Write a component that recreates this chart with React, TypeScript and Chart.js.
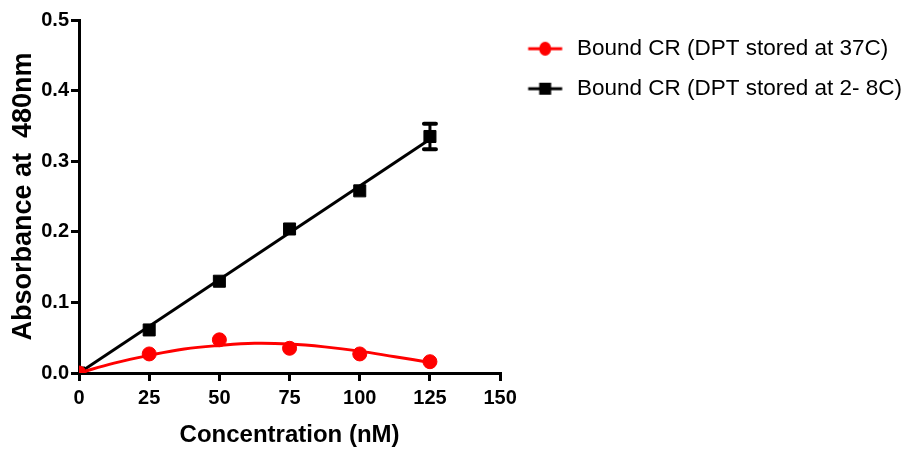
import React, { useEffect, useRef } from "react";
import { Chart, registerables } from "chart.js";

Chart.register(...registerables);

const concentrations = [0, 25, 50, 75, 100, 125];
const bound37C = [0, 0.027, 0.047, 0.035, 0.027, 0.016];
const bound2to8C = [0, 0.061, 0.130, 0.204, 0.258, 0.335];
const bound2to8CError = [0, 0, 0, 0, 0, 0.018];

const fit37CX = [0, 12.5, 25, 37.5, 50, 62.5, 75, 87.5, 100, 112.5, 125];
const fit37CY = [0, 0.014, 0.025, 0.034, 0.039, 0.042, 0.041, 0.037, 0.031, 0.023, 0.015];
const fit2to8CX = [0, 125];
const fit2to8CY = [0, 0.331];

const yTicks = [0, 0.1, 0.2, 0.3, 0.4, 0.5];
const xTicks = [0, 25, 50, 75, 100, 125, 150];

const label37C = "Bound CR (DPT stored at 37C)";
const label2to8C = "Bound CR (DPT stored at 2- 8C)";

const FONT = '"Liberation Sans", Arial, sans-serif';

function legendIcon(color: string, shape: "circle" | "rect"): HTMLCanvasElement {
  const c = document.createElement("canvas");
  c.width = 48;
  c.height = 18;
  const ctx = c.getContext("2d")!;
  ctx.strokeStyle = color;
  ctx.fillStyle = color;
  ctx.lineWidth = 3;
  ctx.beginPath();
  ctx.moveTo(10.5, 9);
  ctx.lineTo(44.5, 9);
  ctx.stroke();
  if (shape === "circle") {
    ctx.beginPath();
    ctx.ellipse(27.5, 9, 6, 7, 0, 0, Math.PI * 2);
    ctx.fill();
  } else {
    ctx.fillRect(21.5, 3, 12, 12);
  }
  return c;
}

const errorBarPlugin = {
  id: "errorBars",
  afterDatasetsDraw(chart: any) {
    const ctx = chart.ctx;
    const xs = chart.scales.x;
    const ys = chart.scales.y;
    ctx.save();
    ctx.strokeStyle = "#000";
    ctx.lineCap = "round";
    concentrations.forEach((c, i) => {
      const e = bound2to8CError[i];
      if (!e) return;
      const px = xs.getPixelForValue(c);
      const top = ys.getPixelForValue(bound2to8C[i] + e);
      const bot = ys.getPixelForValue(bound2to8C[i] - e);
      ctx.lineWidth = 3;
      ctx.beginPath();
      ctx.moveTo(px, top);
      ctx.lineTo(px, bot);
      ctx.stroke();
      ctx.lineWidth = 4;
      ctx.beginPath();
      ctx.moveTo(px - 6, top);
      ctx.lineTo(px + 6, top);
      ctx.moveTo(px - 6, bot);
      ctx.lineTo(px + 6, bot);
      ctx.stroke();
    });
    ctx.restore();
  },
};

export default function App() {
  const ref = useRef<HTMLCanvasElement | null>(null);

  useEffect(() => {
    document.body.style.margin = "0";
    const icons = [legendIcon("#ff0000", "circle"), legendIcon("#000000", "rect")];
    const chart = new Chart(ref.current!, {
      type: "scatter",
      data: {
        datasets: [
          {
            label: label37C,
            data: concentrations.map((x, i) => ({ x, y: bound37C[i] })),
            backgroundColor: "#ff0000",
            borderColor: "#ff0000",
            pointStyle: "circle",
            pointRadius: 7,
            showLine: false,
          },
          {
            label: label2to8C,
            data: concentrations.map((x, i) => ({ x, y: bound2to8C[i] })),
            backgroundColor: "#000000",
            borderColor: "#000000",
            pointStyle: "rect",
            pointRadius: 8.5,
            showLine: false,
          },
          {
            label: "fit37",
            data: fit37CX.map((x, i) => ({ x, y: fit37CY[i] })),
            borderColor: "#ff0000",
            borderWidth: 3,
            pointRadius: 0,
            showLine: true,
            tension: 0.4,
          },
          {
            label: "fit28",
            data: fit2to8CX.map((x, i) => ({ x, y: fit2to8CY[i] })),
            borderColor: "#000000",
            borderWidth: 3,
            pointRadius: 0,
            showLine: true,
          },
        ],
      },
      options: {
        animation: false,
        responsive: false,
        layout: { padding: { top: 20, right: 0, left: 0, bottom: 0 } },
        plugins: {
          tooltip: { enabled: false },
          legend: {
            position: "right",
            align: "start",
            maxWidth: 500,
            labels: {
              usePointStyle: true,
              pointStyleWidth: 48,
              padding: 17.5,
              color: "#000",
              font: { family: FONT, size: 22.5 },
              generateLabels: (chart: any) =>
                chart.data.datasets.slice(0, 2).map((d: any, i: number) => ({
                  text: d.label,
                  pointStyle: icons[i],
                  datasetIndex: i,
                  fillStyle: d.backgroundColor,
                  strokeStyle: d.borderColor,
                  lineWidth: 0,
                  hidden: false,
                  fontColor: "#000",
                })),
            },
          },
        },
        scales: {
          x: {
            type: "linear",
            min: 0,
            max: 150,
            afterBuildTicks: (s: any) => {
              s.ticks = xTicks.map((v) => ({ value: v }));
            },
            afterFit: (s: any) => {
              s.height = 81;
            },
            border: { display: true, color: "#000", width: 3 },
            grid: { display: true, drawOnChartArea: false, drawTicks: true, tickLength: 8, color: "#000", lineWidth: 3 },
            ticks: { color: "#000", font: { family: FONT, size: 20, weight: "bold" }, padding: 5, maxRotation: 0 },
            title: { display: true, text: "Concentration (nM)", color: "#000", font: { family: FONT, size: 24, weight: "bold" }, padding: { top: 8 } },
          },
          y: {
            type: "linear",
            min: 0,
            max: 0.5,
            afterBuildTicks: (s: any) => {
              s.ticks = yTicks.map((v) => ({ value: v }));
            },
            afterFit: (s: any) => {
              s.width = 79;
            },
            border: { display: true, color: "#000", width: 3 },
            grid: { display: true, drawOnChartArea: false, drawTicks: true, tickLength: 8, color: "#000", lineWidth: 3 },
            ticks: {
              color: "#000",
              font: { family: FONT, size: 20, weight: "bold" },
              padding: 2,
              callback: (v: any) => Number(v).toFixed(1),
            },
            title: { display: true, text: "Absorbance at  480nm", color: "#000", font: { family: FONT, size: 27, weight: "bold" }, padding: { top: 7, bottom: 0 } },
          },
        },
      },
      plugins: [errorBarPlugin],
    });
    return () => chart.destroy();
  }, []);

  return (
    <div style={{ width: 912, height: 454 }}>
      <canvas ref={ref} width={912} height={454} />
    </div>
  );
}
